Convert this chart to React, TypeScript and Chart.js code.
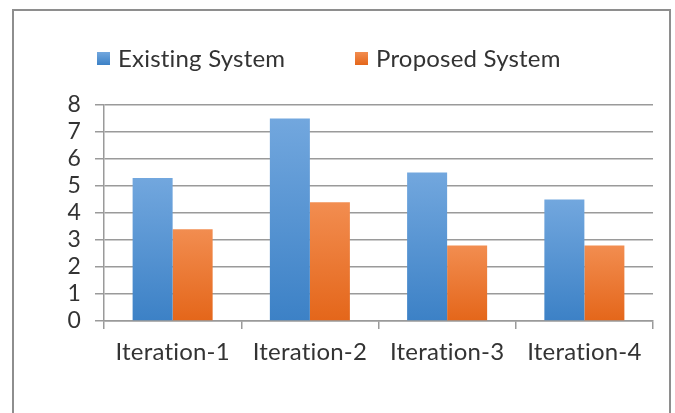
import React, { useEffect, useRef } from "react";
import { Chart, registerables } from "chart.js";

Chart.register(...registerables);

const categories = ["Iteration-1", "Iteration-2", "Iteration-3", "Iteration-4"];
const existingSystem = [5.3, 7.5, 5.5, 4.5];
const proposedSystem = [3.4, 4.4, 2.8, 2.8];
const seriesNames = ["Existing System", "Proposed System"];
const yTicks = [0, 1, 2, 3, 4, 5, 6, 7, 8];

const FONT = "Lato, 'Open Sans', sans-serif";
const TEXT = "#333333";
const GRID = "#9a9a9a";

const BLUE_TOP = "#72a7de";
const BLUE_BOT = "#3c81c6";
const ORANGE_TOP = "#f28d50";
const ORANGE_BOT = "#e4661a";

function barGradient(top: string, bot: string) {
  return (ctx: any) => {
    const chart = ctx.chart;
    const y = chart.scales && chart.scales.y;
    if (!y || ctx.parsed == null) return bot;
    const v = ctx.raw as number;
    const y0 = y.getPixelForValue(v);
    const y1 = y.getPixelForValue(0);
    if (!isFinite(y0) || !isFinite(y1) || y0 === y1) return bot;
    const g = chart.ctx.createLinearGradient(0, y0, 0, y1);
    g.addColorStop(0, top);
    g.addColorStop(1, bot);
    return g;
  };
}

const noLigatures = {
  id: "noLigatures",
  beforeDraw(chart: any) {
    try {
      (chart.ctx as any).letterSpacing = "0.2px";
    } catch (e) {}
  },
};

const legendPlugin = {
  id: "customLegend",
  afterDraw(chart: any) {
    const c = chart.ctx;
    c.save();
    try {
      (c as any).letterSpacing = "0.2px";
    } catch (e) {}
    c.font = `24px ${FONT}`;
    c.textBaseline = "alphabetic";
    c.textAlign = "left";
    const items = [
      { x: 97, color: BLUE_TOP, color2: BLUE_BOT, text: seriesNames[0] },
      { x: 355, color: ORANGE_TOP, color2: ORANGE_BOT, text: seriesNames[1] },
    ];
    items.forEach((it) => {
      const g = c.createLinearGradient(0, 52, 0, 65);
      g.addColorStop(0, it.color);
      g.addColorStop(1, it.color2);
      c.fillStyle = g;
      c.fillRect(it.x, 52, 13, 13);
      c.fillStyle = TEXT;
      c.fillText(it.text, it.x + 21, 67);
    });
    c.restore();
  },
};

export default function App() {
  const ref = useRef<HTMLCanvasElement>(null);
  useEffect(() => {
    document.body.style.margin = "0";
    const chart = new Chart(ref.current!, {
      type: "bar",
      data: {
        labels: categories,
        datasets: [
          {
            label: seriesNames[0],
            data: existingSystem,
            backgroundColor: barGradient(BLUE_TOP, BLUE_BOT),
            borderWidth: 0,
          },
          {
            label: seriesNames[1],
            data: proposedSystem,
            backgroundColor: barGradient(ORANGE_TOP, ORANGE_BOT),
            borderWidth: 0,
          },
        ],
      },
      options: {
        responsive: false,
        animation: false,
        layout: { padding: { top: 105, right: 22, bottom: 0, left: 0 } },
        plugins: {
          legend: { display: false },
          tooltip: { enabled: false },
        },
        datasets: {
          bar: { barPercentage: 1, categoryPercentage: 0.583 },
        },
        scales: {
          x: {
            grid: {
              display: true,
              drawOnChartArea: false,
              drawTicks: true,
              tickLength: 8,
              color: GRID,
              lineWidth: 1.5,
              offset: true,
            },
            border: { display: true, color: GRID, width: 1.5 },
            ticks: {
              color: TEXT,
              font: { family: FONT, size: 24 },
              padding: 9,
              maxRotation: 0,
              autoSkip: false,
            },
            afterFit: (s: any) => {
              s.height = 92;
            },
          },
          y: {
            min: 0,
            max: 8,
            afterBuildTicks: (s: any) => {
              s.ticks = yTicks.map((v) => ({ value: v }));
            },
            grid: {
              color: GRID,
              lineWidth: 1.5,
              tickLength: 9,
            },
            border: { display: true, color: GRID, width: 1.5 },
            ticks: {
              color: TEXT,
              font: { family: FONT, size: 23 },
              padding: 14,
              autoSkip: false,
            },
            afterFit: (s: any) => {
              s.width = 104;
            },
          },
        },
      },
      plugins: [noLigatures, legendPlugin],
    });
    return () => chart.destroy();
  }, []);

  return (
    <div style={{ position: "absolute", left: 0, top: 0, width: 675, height: 413, background: "#fff" }}>
      <canvas ref={ref} width={675} height={413} style={{ position: "absolute", left: 0, top: 0 }} />
      <div
        style={{
          position: "absolute",
          left: 12,
          top: 9,
          width: 659,
          height: 420,
          borderTop: "2px solid #8e8e8e",
          borderLeft: "2px solid #8e8e8e",
          borderRight: "2px solid #8e8e8e",
          boxSizing: "border-box",
          pointerEvents: "none",
        }}
      />
    </div>
  );
}
